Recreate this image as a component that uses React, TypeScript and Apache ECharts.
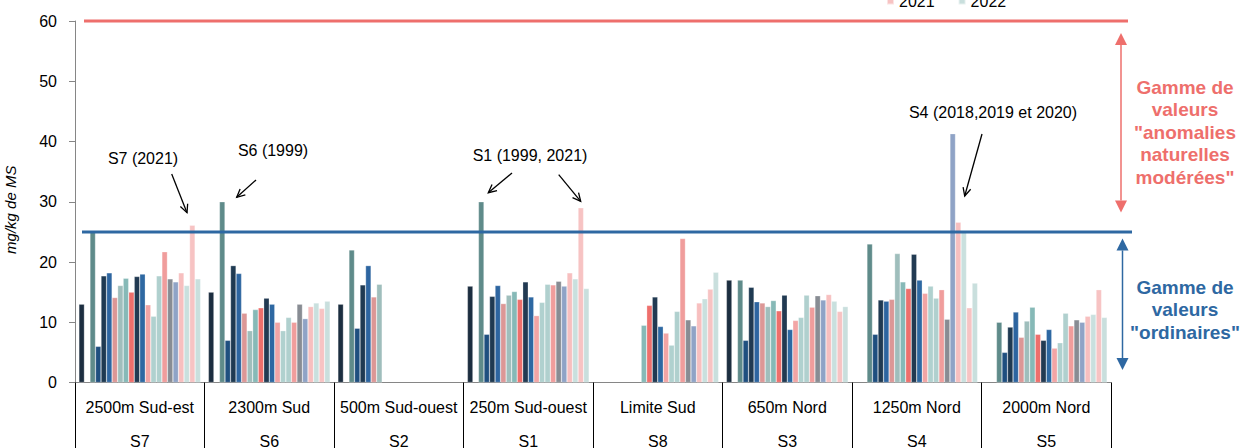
import React, { useEffect, useRef } from "react";
import * as echarts from "echarts";

const categories = [
  "2500m Sud-est",
  "2300m Sud",
  "500m Sud-ouest",
  "250m Sud-ouest",
  "Limite Sud",
  "650m Nord",
  "1250m Nord",
  "2000m Nord",
];
const stationCodes = ["S7", "S6", "S2", "S1", "S8", "S3", "S4", "S5"];

const years = [
  "1996", "1998", "1999", "2004", "2005", "2006", "2007", "2008", "2009", "2010", "2011",
  "2012", "2013", "2014", "2015", "2016", "2017", "2018", "2019", "2020", "2021", "2022",
];

const yearColors = [
  "#1c2e40", "#3b5566", "#5f8b8a", "#1f4f7f", "#1f3a52", "#2d65a0", "#dc9796", "#9fbebc",
  "#86b9b7", "#ee6f6c", "#223a52", "#2e68a2", "#f2a5a5", "#b0d1cf", "#b0d0ce", "#f09d9c",
  "#888c93", "#8fa3c6", "#f7bfbf", "#c9e0de", "#f7c3c3", "#c9dfdd",
];

const _ = null;
// one value per year (order of `years`)
const s7 = [13, _, 25, 6, 17.7, 18.2, 14.1, 16.1, 17.3, 15, 17.6, 18, 12.9, 11, 17.7, 21.7, 17.2, 16.7, 18.2, 16.1, 26.1, 17.2];
const s6 = [15, _, 30, 7, 19.4, 18.1, 11.5, 8.6, 12.1, 12.4, 14, 13, 10, 8.6, 10.8, 10, 13, 10.6, 12.6, 13.2, 12.3, 13.5];
const s2 = [13, _, 22, 9, 16.2, 19.4, 14.2, 16.3, _, _, _, _, _, _, _, _, _, _, _, _, _, _];
const s1 = [16, _, 30, 8, 14.3, 16.1, 13.1, 14.5, 15.1, 13.8, 16.7, 14.2, 11.1, 13.3, 16.3, 16.2, 16.8, 16, 18.2, 17.2, 29, 15.6];
const s8 = [_, _, _, _, _, _, _, _, 9.5, 12.8, 14.2, 9.3, 8.2, 6.2, 11.8, 23.9, 10.4, 9.4, 13.2, 13.9, 15.5, 18.3];
const s3 = [17, _, 17, 7, 15.8, 13.4, 13.2, 12.6, 13.6, 11.9, 14.5, 8.8, 10.3, 10.8, 14.5, 12.5, 14.4, 13.7, 14.6, 13.5, 11.8, 12.6];
const s4 = [_, _, 23, 8, 13.7, 13.5, 13.8, 21.4, 16.7, 15.6, 21.3, 17, 14.8, 16, 14, 15.4, 10.5, 41.3, 26.6, 25.2, 12.4, 16.5];
const s5 = [_, _, 10, 5, 9.2, 11.7, 7.5, 10.2, 12.5, 8, 7, 8.8, 5.7, 6.6, 11.5, 9.4, 10.4, 10, 11, 11.3, 15.4, 10.8];
const stations = [s7, s6, s2, s1, s8, s3, s4, s5];

const yTicks = { min: 0, max: 60, interval: 10 };
const thresholdAnomalies = 60;
const thresholdOrdinary = 25;

const FONT = "'Liberation Sans', Arial, sans-serif";

function arrow(x1: number, y1: number, x2: number, y2: number) {
  const head = 9;
  const ang = 0.45;
  const a = Math.atan2(y2 - y1, x2 - x1);
  const p1 = [x2 - head * Math.cos(a - ang), y2 - head * Math.sin(a - ang)];
  const p2 = [x2 - head * Math.cos(a + ang), y2 - head * Math.sin(a + ang)];
  return [
    { type: "line", silent: true, z: 100, shape: { x1, y1, x2, y2 }, style: { stroke: "#000", lineWidth: 1.3 } },
    {
      type: "polyline",
      silent: true,
      z: 100,
      shape: { points: [p1, [x2, y2], p2] },
      style: { stroke: "#000", lineWidth: 1.3, fill: null },
    },
  ];
}

function dblArrow(x: number, yTop: number, yBot: number, color: string) {
  const h = 12;
  const w = 6;
  return [
    { type: "line", silent: true, z: 100, shape: { x1: x, y1: yTop + h, x2: x, y2: yBot - h }, style: { stroke: color, lineWidth: 1.5 } },
    { type: "polygon", silent: true, z: 100, shape: { points: [[x, yTop], [x - w, yTop + h], [x + w, yTop + h]] }, style: { fill: color } },
    { type: "polygon", silent: true, z: 100, shape: { points: [[x, yBot], [x - w, yBot - h], [x + w, yBot - h]] }, style: { fill: color } },
  ];
}

function label(text: string, x: number, y: number) {
  return {
    type: "text",
    silent: true,
    z: 100,
    x,
    y,
    style: {
      text,
      fill: "#000",
      font: `16px ${FONT}`,
      textAlign: "center",
      textVerticalAlign: "middle",
    },
  };
}

export default function App() {
  const ref = useRef<HTMLDivElement>(null);

  useEffect(() => {
    if (!ref.current) return;
    const chart = echarts.init(ref.current, undefined, { renderer: "svg" });

    const series = years.map((yr, i) => ({
      name: yr,
      type: "bar",
      data: stations.map((s) => s[i]),
      barGap: "0%",
      barCategoryGap: "6%",
      itemStyle: { color: yearColors[i], borderColor: "rgba(255,255,255,0.55)", borderWidth: 0.5 },
      emphasis: { disabled: true },
    }));

    chart.setOption({
      animation: false,
      textStyle: { fontFamily: FONT },
      legend: {
        data: ["2021", "2022"],
        left: 886,
        top: -7,
        padding: 0,
        itemWidth: 7,
        itemHeight: 7,
        itemGap: 23,
        icon: "rect",
        textStyle: { fontSize: 16, color: "#000", fontFamily: FONT },
      },
      grid: { left: 75, right: 129, top: 21, bottom: 65.5, containLabel: false, outerBoundsMode: "none" },
      xAxis: {
        type: "category",
        data: categories,
        axisLine: { lineStyle: { color: "#868686", width: 1 } },
        axisTick: { show: true, alignWithLabel: false, length: 66, lineStyle: { color: "#000", width: 1 } },
        axisLabel: {
          interval: 0,
          margin: 8,
          fontSize: 16,
          color: "#000",
          lineHeight: 34,
          formatter: (v: string, idx: number) => `${v}\n${stationCodes[idx]}`,
        },
      },
      yAxis: {
        type: "value",
        min: yTicks.min,
        max: yTicks.max,
        interval: yTicks.interval,
        name: "mg/kg de MS",
        nameLocation: "middle",
        nameRotate: 90,
        nameGap: 57,
        nameTextStyle: { fontStyle: "italic", fontSize: 15, color: "#000", padding: [0, 16, 0, 0] },
        axisLine: { show: true, lineStyle: { color: "#868686", width: 1 } },
        axisTick: { show: true, inside: false, length: 6, lineStyle: { color: "#868686" } },
        axisLabel: { fontSize: 16, color: "#000", margin: 18 },
        splitLine: { show: false },
      },
      series,
    });

    const py = (v: number) => chart.convertToPixel({ yAxisIndex: 0 }, v) as number;
    const y60 = py(thresholdAnomalies);
    const y25 = py(thresholdOrdinary);
    const y0 = py(0);
    const red = "#ee6f6c";
    const blue = "#2e68a2";

    const graphic: any[] = [
      { type: "line", silent: true, z: 90, shape: { x1: 84, y1: y60, x2: 1128, y2: y60 }, style: { stroke: red, lineWidth: 3 } },
      { type: "line", silent: true, z: 90, shape: { x1: 82, y1: y25, x2: 1132, y2: y25 }, style: { stroke: blue, lineWidth: 3 } },
      ...dblArrow(1121, y60 + 12, y25 - 19.5, red),
      ...dblArrow(1122.5, y25 + 6.5, y0 - 12.5, blue),
      {
        type: "text",
        silent: true,
        z: 100,
        x: 1185,
        y: 132,
        style: {
          text: 'Gamme de\nvaleurs\n"anomalies\nnaturelles\nmodérées"',
          fill: red,
          font: `bold 19px ${FONT}`,
          lineHeight: 22.5,
          textAlign: "center",
          textVerticalAlign: "middle",
        },
      },
      {
        type: "text",
        silent: true,
        z: 100,
        x: 1185,
        y: 309.5,
        style: {
          text: 'Gamme de\nvaleurs\n"ordinaires"',
          fill: blue,
          font: `bold 19px ${FONT}`,
          lineHeight: 22.5,
          textAlign: "center",
          textVerticalAlign: "middle",
        },
      },
      label("S7 (2021)", 143, 158),
      ...arrow(171.7, 174, 187, 212.7),
      label("S6 (1999)", 273, 150),
      ...arrow(256, 180, 236.7, 197.3),
      label("S1 (1999, 2021)", 530, 155),
      ...arrow(512, 173, 488.3, 192.7),
      ...arrow(558.7, 174.7, 580.7, 201.3),
      label("S4 (2018,2019 et 2020)", 993, 112),
      ...arrow(982, 134, 964.7, 196),
    ];
    chart.setOption({ graphic });

    return () => chart.dispose();
  }, []);

  return (
    <div
      ref={ref}
      style={{ position: "fixed", left: 0, top: 0, width: 1240, height: 448, background: "#fff" }}
    />
  );
}
